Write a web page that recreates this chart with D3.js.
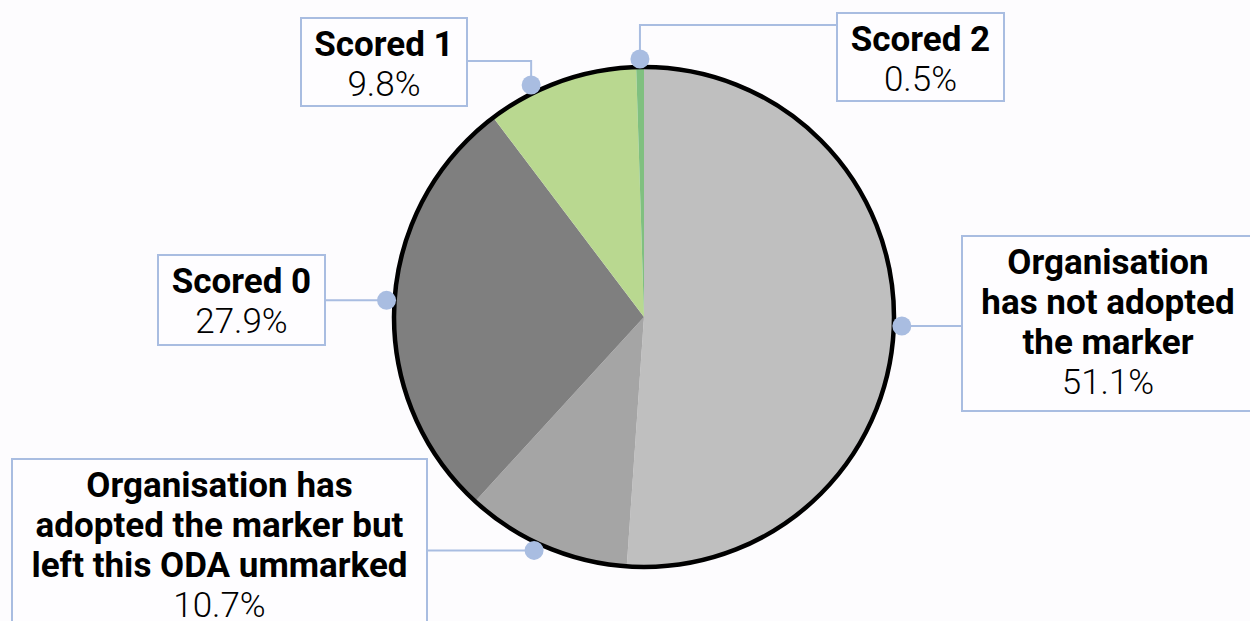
<!DOCTYPE html>
<html>
<head>
<meta charset="utf-8">
<script src="https://cdn.jsdelivr.net/npm/d3@7"></script>
<style>
  html, body { margin: 0; padding: 0; background: #fdfcfe; overflow: hidden; }
  text { font-family: Roboto, "DejaVu Sans", sans-serif; fill: #000; }
</style>
</head>
<body>
<div id="pie-chart"></div>
<script>
// data, clockwise from 12 o'clock
var categories = [
    "Organisation has not adopted the marker",
    "Organisation has adopted the marker but left this ODA ummarked",
    "Scored 0",
    "Scored 1",
    "Scored 2"
];
var values = [51.1, 10.7, 27.9, 9.8, 0.5];
var labelLines = [
    ["Organisation", "has not adopted", "the marker"],
    ["Organisation has", "adopted the marker but", "left this ODA ummarked"],
    ["Scored 0"],
    ["Scored 1"],
    ["Scored 2"]
];
var colors = ["#bfbfbf", "#a5a5a5", "#7f7f7f", "#b9d890", "#80c080"];

// label box layout (x, y, w, h), attach y for elbow leaders, small angle nudge in degrees
var boxes = [
    { x: 962, y: 236, w: 292, h: 175, attachY: null, nudge: 0 },
    { x: 12, y: 459, w: 415, h: 175, attachY: null, nudge: 2 },
    { x: 158, y: 255, w: 167, h: 90, attachY: null, nudge: 1 },
    { x: 301, y: 18, w: 166, h: 88, attachY: 61, nudge: -6.5 },
    { x: 837, y: 13, w: 167, h: 88, attachY: 25, nudge: 0 }
];

var width = 1250, height = 621;
var cx = 644, cy = 317, radius = 250, dotRadius = 258;
var lineColor = "#a9bde1";

var svg = d3.select("#pie-chart").append("svg")
    .attr("width", width)
    .attr("height", height);

var data = categories.map(function(c, i) {
    return { name: c, value: values[i], lines: labelLines[i], color: colors[i], box: boxes[i] };
});

var pie = d3.pie().sort(null).value(function(d) { return d.value; });
var arc = d3.arc().innerRadius(0).outerRadius(radius);
var arcs = pie(data);

var g = svg.append("g").attr("transform", "translate(" + cx + "," + cy + ")");

g.selectAll(".slice")
    .data(arcs)
    .enter().append("path")
    .attr("class", "slice")
    .attr("d", arc)
    .attr("fill", function(d) { return d.data.color; });

// outer ring
g.append("circle")
    .attr("r", radius)
    .attr("fill", "none")
    .attr("stroke", "#000")
    .attr("stroke-width", 4.5);

// leader lines + dots
arcs.forEach(function(a) {
    var b = a.data.box;
    var ang = (a.startAngle + a.endAngle) / 2 + b.nudge * Math.PI / 180;
    var dx = cx + dotRadius * Math.sin(ang);
    var dy = cy - dotRadius * Math.cos(ang);
    var ay = b.attachY == null ? dy : b.attachY;
    var ex = dx < b.x ? b.x : b.x + b.w;
    svg.append("path")
        .attr("d", d3.line()([[dx, dy], [dx, ay], [ex, ay]]))
        .attr("fill", "none")
        .attr("stroke", lineColor)
        .attr("stroke-width", 2);
    svg.append("circle")
        .attr("cx", dx)
        .attr("cy", dy)
        .attr("r", 9.5)
        .attr("fill", lineColor);
});

// label boxes
var labels = svg.selectAll(".label")
    .data(data)
    .enter().append("g")
    .attr("class", "label");

labels.append("rect")
    .attr("x", function(d) { return d.box.x; })
    .attr("y", function(d) { return d.box.y; })
    .attr("width", function(d) { return d.box.w; })
    .attr("height", function(d) { return d.box.h; })
    .attr("fill", "#fefdff")
    .attr("stroke", lineColor)
    .attr("stroke-width", 2);

labels.each(function(d) {
    var sel = d3.select(this);
    var mid = d.box.x + d.box.w / 2;
    d.lines.forEach(function(t, i) {
        sel.append("text")
            .attr("x", mid)
            .attr("y", d.box.y + 25 + i * 40)
            .attr("dy", "0.36em")
            .attr("text-anchor", "middle")
            .attr("font-size", 35)
            .attr("font-weight", "bold")
            .text(t);
    });
    sel.append("text")
        .attr("x", mid)
        .attr("y", d.box.y + 25 + d.lines.length * 40)
        .attr("dy", "0.36em")
        .attr("text-anchor", "middle")
        .attr("font-size", 35)
        .attr("font-weight", 300)
        .text(d3.format(".1f")(d.value) + "%");
});
</script>
</body>
</html>
